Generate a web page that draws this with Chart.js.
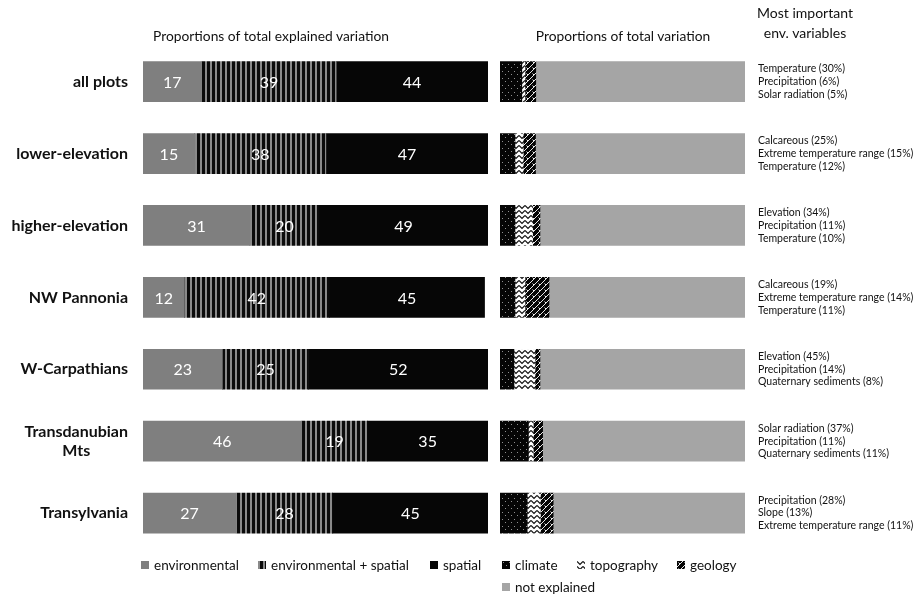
<!DOCTYPE html>
<html>
<head>
<meta charset="utf-8">
<script src="https://cdn.jsdelivr.net/npm/chart.js@4"></script>
<style>
  body { margin:0; width:915px; height:595px; overflow:hidden; position:relative; background:#fff;
         font-family: Lato, "Open Sans", sans-serif; color:#111; }
  .txt { position:absolute; white-space:nowrap; text-align:center; }
  .leg { position:absolute; white-space:nowrap; font-size:13.5px; display:flex; align-items:center; }
  .leg canvas { margin-right:5px; }
  #c1 { position:absolute; left:0; top:0; }
  #c2 { position:absolute; left:495px; top:0; }
</style>
</head>
<body>
<canvas id="c1" width="495" height="595"></canvas>
<canvas id="c2" width="420" height="595"></canvas>

<div class="txt" style="left:121px;width:300px;top:27px;font-size:13.8px">Proportions of total explained variation</div>
<div class="txt" style="left:473px;width:300px;top:27px;font-size:13.8px">Proportions of total variation</div>
<div class="txt" style="left:730px;width:150px;top:3px;font-size:14px;line-height:20px">Most important<br>env. variables</div>

<div class="leg" style="left:141px;top:557px"><canvas id="lg0" width="8" height="8"></canvas>environmental</div>
<div class="leg" style="left:258px;top:557px"><canvas id="lg1" width="8" height="8"></canvas>environmental + spatial</div>
<div class="leg" style="left:430px;top:557px"><canvas id="lg2" width="8" height="8"></canvas>spatial</div>
<div class="leg" style="left:502px;top:557px"><canvas id="lg3" width="8" height="8"></canvas>climate</div>
<div class="leg" style="left:577px;top:557px"><canvas id="lg4" width="8" height="8"></canvas>topography</div>
<div class="leg" style="left:677px;top:557px"><canvas id="lg5" width="8" height="8"></canvas>geology</div>
<div class="leg" style="left:502px;top:579px"><canvas id="lg6" width="8" height="8"></canvas>not explained</div>

<script>
// Regions / subsets
const categories = ['all plots', 'lower-elevation', 'higher-elevation', 'NW Pannonia',
                    'W-Carpathians', ['Transdanubian', 'Mts'], 'Transylvania'];

// Variation partitioning (% of explained variation)
const environmental = [17, 15, 31, 12, 23, 46, 27];
const envSpatial    = [39, 38, 20, 42, 25, 19, 28];
const spatial       = [44, 47, 49, 45, 52, 35, 45];

// Share of total variation by variable group (%)
const climate      = [8.9, 6.1, 6.1, 6.1, 5.7, 11.6, 11.1];
const topography   = [1.3, 3.4, 7.2, 4.1, 8.6, 2.0, 5.4];
const geology      = [4.4, 5.0, 3.0, 9.8, 2.0, 3.8, 5.2];
const notExplained = [85.4, 85.5, 83.7, 80.0, 83.7, 82.6, 78.3];

// Most important environmental variables per subset
const topVariables = [
  ['Temperature (30%)', 'Precipitation (6%)', 'Solar radiation (5%)'],
  ['Calcareous (25%)', 'Extreme temperature range (15%)', 'Temperature (12%)'],
  ['Elevation (34%)', 'Precipitation (11%)', 'Temperature (10%)'],
  ['Calcareous (19%)', 'Extreme temperature range (14%)', 'Temperature (11%)'],
  ['Elevation (45%)', 'Precipitation (14%)', 'Quaternary sediments (8%)'],
  ['Solar radiation (37%)', 'Precipitation (11%)', 'Quaternary sediments (11%)'],
  ['Precipitation (28%)', 'Slope (13%)', 'Extreme temperature range (11%)']
];

const FONT = 'Lato, "Open Sans", sans-serif';
const GRAY_ENV = '#7f7f7f';
const BLACK = '#060606';
const GRAY_NE = '#a5a5a5';

function makePattern(w, h, paint) {
  const c = document.createElement('canvas');
  c.width = w; c.height = h;
  const g = c.getContext('2d');
  paint(g, w, h);
  return g.createPattern(c, 'repeat');
}

// vertical stripes for the shared fraction
const stripePat = () => makePattern(5, 4, (g) => {
  g.fillStyle = '#0b0b0b'; g.fillRect(0, 0, 5, 4);
  g.fillStyle = '#8a8a8a'; g.fillRect(0, 0, 2, 4);
});
// dotted black for climate
const dotPat = () => makePattern(6, 7, (g) => {
  g.fillStyle = '#050505'; g.fillRect(0, 0, 6, 7);
  g.fillStyle = '#8f8f8f'; g.fillRect(1, 1, 1, 1); g.fillRect(4, 4, 1, 1);
});
// zigzag for topography
const zigPat = () => makePattern(6, 5, (g) => {
  g.fillStyle = '#ffffff'; g.fillRect(0, 0, 6, 5);
  g.strokeStyle = '#111'; g.lineWidth = 1.2;
  g.beginPath(); g.moveTo(0, 0.5); g.lineTo(3, 3.5); g.lineTo(6, 0.5); g.stroke();
  g.beginPath(); g.moveTo(0, 5.5); g.lineTo(3, 8.5); g.lineTo(6, 5.5); g.stroke();
});
// diagonal brick for geology
const brickPat = () => makePattern(6, 6, (g) => {
  g.fillStyle = '#050505'; g.fillRect(0, 0, 6, 6);
  g.strokeStyle = '#e8e8e8'; g.lineWidth = 1;
  g.beginPath(); g.moveTo(0, 6); g.lineTo(6, 0); g.stroke();
  g.beginPath(); g.moveTo(-1, 1); g.lineTo(1, -1); g.stroke();
  g.beginPath(); g.moveTo(5, 7); g.lineTo(7, 5); g.stroke();
  g.beginPath(); g.moveTo(1.5, 1.5); g.lineTo(3, 3); g.stroke();
});

const fills = {
  env: GRAY_ENV, envSp: stripePat(), sp: BLACK,
  cl: dotPat(), topo: zigPat(), geo: brickPat(), ne: GRAY_NE
};

// Legend swatches
[[ 'lg0', fills.env ], ['lg1', fills.envSp], ['lg2', fills.sp], ['lg3', fills.cl],
 ['lg4', fills.topo], ['lg5', fills.geo], ['lg6', fills.ne]].forEach(([id, f]) => {
  const g = document.getElementById(id).getContext('2d');
  g.fillStyle = f; g.fillRect(0, 0, 8, 8);
});

// Value labels inside the explained-variation bars
const valueLabels = {
  id: 'valueLabels',
  afterDatasetsDraw(chart) {
    const ctx = chart.ctx;
    ctx.save();
    ctx.font = '16px ' + FONT;
    ctx.fillStyle = '#ffffff';
    ctx.textAlign = 'center';
    ctx.textBaseline = 'middle';
    chart.data.datasets.forEach((ds, di) => {
      chart.getDatasetMeta(di).data.forEach((el, i) => {
        ctx.fillText(String(ds.data[i]), (el.x + el.base) / 2, el.y + 1);
      });
    });
    ctx.restore();
  }
};

// Category names, right-aligned block, lines centred within it
const categoryLabels = {
  id: 'categoryLabels',
  afterDraw(chart) {
    const ctx = chart.ctx;
    const ys = chart.scales.y;
    ctx.save();
    ctx.font = 'bold 16px ' + FONT;
    ctx.fillStyle = '#111';
    ctx.textAlign = 'center';
    ctx.textBaseline = 'middle';
    const right = 128, lh = 19;
    categories.forEach((lab, i) => {
      const lines = Array.isArray(lab) ? lab : [lab];
      const w = Math.max(...lines.map(l => ctx.measureText(l).width));
      const cx = right - w / 2;
      const y0 = ys.getPixelForValue(i) - (lines.length - 1) * lh / 2;
      lines.forEach((l, k) => ctx.fillText(l, cx, y0 + k * lh));
    });
    ctx.restore();
  }
};

const PAD_TOP = 45.7, PAD_BOTTOM = 46;

new Chart(document.getElementById('c1'), {
  type: 'bar',
  data: {
    labels: categories,
    datasets: [
      { label: 'environmental', data: environmental, backgroundColor: fills.env },
      { label: 'environmental + spatial', data: envSpatial, backgroundColor: fills.envSp },
      { label: 'spatial', data: spatial, backgroundColor: fills.sp }
    ]
  },
  options: {
    indexAxis: 'y',
    responsive: false,
    animation: false,
    barThickness: 40,
    layout: { padding: { left: 0, right: 7, top: PAD_TOP, bottom: PAD_BOTTOM } },
    scales: {
      x: { stacked: true, min: 0, max: 100, display: false },
      y: { stacked: true, grid: { display: false }, border: { display: false },
           ticks: { display: false }, afterFit: s => { s.width = 143; } }
    },
    plugins: { legend: { display: false }, tooltip: { enabled: false } }
  },
  plugins: [valueLabels, categoryLabels]
});

new Chart(document.getElementById('c2'), {
  type: 'bar',
  data: {
    labels: categories,
    datasets: [
      { label: 'climate', data: climate, backgroundColor: fills.cl },
      { label: 'topography', data: topography, backgroundColor: fills.topo },
      { label: 'geology', data: geology, backgroundColor: fills.geo },
      { label: 'not explained', data: notExplained, backgroundColor: fills.ne }
    ]
  },
  options: {
    indexAxis: 'y',
    responsive: false,
    animation: false,
    barThickness: 40,
    layout: { padding: { left: 5, right: 0, top: PAD_TOP, bottom: PAD_BOTTOM } },
    scales: {
      x: { stacked: true, min: 0, max: 100, display: false },
      y: { stacked: true, display: false },
      y2: {
        type: 'category', position: 'right', labels: topVariables, offset: true,
        grid: { display: false }, border: { display: false },
        ticks: { color: '#111', padding: 5, font: { family: FONT, size: 10.5, lineHeight: 1.22 } },
        afterFit: s => { s.width = 170; }
      }
    },
    plugins: { legend: { display: false }, tooltip: { enabled: false } }
  }
});
</script>
</body>
</html>
